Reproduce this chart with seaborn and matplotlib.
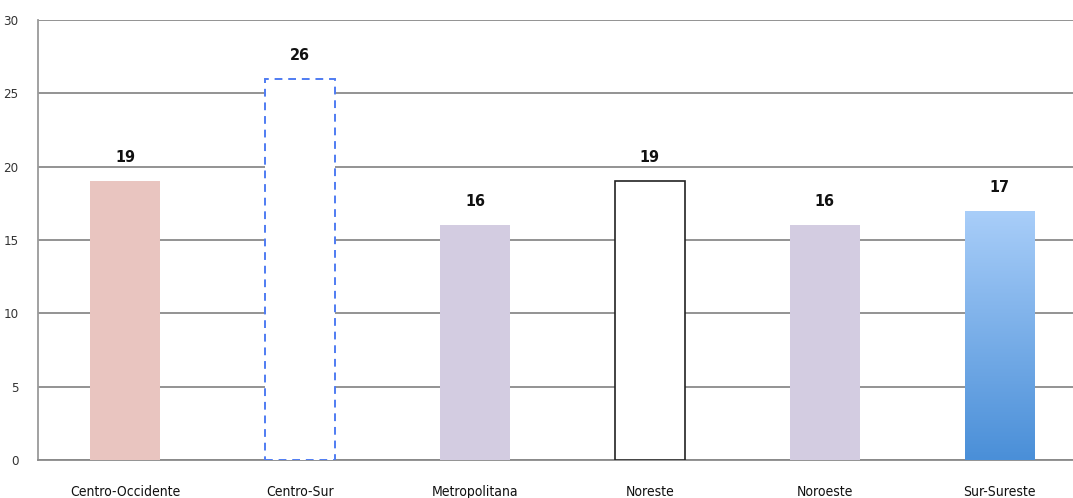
import numpy as np
import pandas as pd
import seaborn as sns
import matplotlib.pyplot as plt

# data
regiones = ["Centro-Occidente", "Centro-Sur", "Metropolitana", "Noreste", "Noroeste", "Sur-Sureste"]
valores = [19, 26, 16, 19, 16, 17]

df = pd.DataFrame({"region": regiones, "valor": valores})

sns.set_theme(style="white")
plt.rcParams['font.family'] = ['DejaVu Sans']
plt.rcParams['font.stretch'] = 'condensed'

fig = plt.figure(figsize=(10.73, 4.98), dpi=100)
ax = fig.add_axes([0.0354, 0.0763, 0.9646, 0.8835])

p = sns.barplot(data=df, x="region", y="valor", width=0.4, ax=ax, color="white")

fills = ["#E9C5C0", "white", "#D3CCE1", "white", "#D3CCE1", "none"]
for i, bar in enumerate(p.patches):
    bar.set_facecolor(fills[i])
    bar.set_edgecolor("none")
    bar.set_zorder(3)

# Centro-Sur: dashed blue outline
b = p.patches[1]
b.set_edgecolor("#4F7CF2")
b.set_linestyle((0, (4, 3)))
b.set_linewidth(1.4)

# Noreste: thin black outline
b = p.patches[3]
b.set_edgecolor("#222222")
b.set_linewidth(1.2)

# Sur-Sureste: blue gradient
b = p.patches[5]
x0, y0 = b.get_x(), b.get_y()
w, h = b.get_width(), b.get_height()
grad = np.linspace(1, 0, 256).reshape(-1, 1)
cmap = sns.blend_palette(["#4A8FD8", "#A9CEF9"], as_cmap=True)
img = ax.imshow(grad, extent=[x0, x0 + w, y0, y0 + h], aspect="auto",
                cmap=cmap, origin="upper", zorder=3)
img.set_clip_path(b)

for i, v in enumerate(valores):
    ax.text(i, v + 1.1, str(v), ha="center", va="bottom", fontsize=11.5,
            fontweight="bold", fontstretch="condensed", color="#111111", zorder=4)

ax.set_ylim(0, 30)
ax.set_xlim(-0.5, 5.42)
ax.set_yticks(range(0, 31, 5))
ax.yaxis.grid(True, color="#8a8a8a", linewidth=1.3)
ax.set_axisbelow(True)
ax.set_xlabel("")
ax.set_ylabel("")
ax.tick_params(axis="y", length=0, pad=14, labelsize=9.5, labelcolor="#333333")
ax.tick_params(axis="x", length=0, pad=18, labelsize=10, labelcolor="#111111")
for s in ["top", "right"]:
    ax.spines[s].set_visible(False)
ax.spines["left"].set_color("#9a9a9a")
ax.spines["bottom"].set_color("#8a8a8a")
ax.spines["left"].set_linewidth(1.3)
ax.spines["bottom"].set_linewidth(1.3)

fig.savefig("out.png", dpi=100)
